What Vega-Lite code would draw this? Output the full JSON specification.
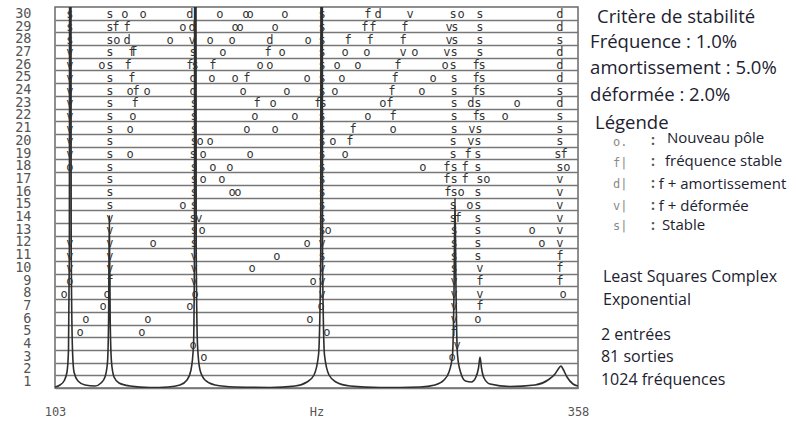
{
"$schema": "https://vega.github.io/schema/vega-lite/v6.json",
"width": 523, "height": 381,
"autosize": {"type": "none"},
"padding": {"left": 55, "top": 7, "right": 231, "bottom": 34},
"background": "white",
"config": {"view": {"stroke": "#6a6a6a", "strokeWidth": 1.5}},
"encoding": {
 "x": {"field": "hz", "type": "quantitative", "scale": {"domain": [103, 358], "nice": false, "zero": false},
  "axis": {"values": [103, 230.5, 358], "labelExpr": "datum.value == 230.5 ? 'Hz' : datum.label", "ticks": false, "domain": false, "grid": false, "labelPadding": 18, "labelFont": "DejaVu Sans Mono", "labelFontSize": 12, "labelColor": "#555555", "title": null, "labelFlush": false, "labelOverlap": false}},
 "y": {"field": "y", "type": "quantitative", "scale": {"domain": [0.5, 30.5], "nice": false, "zero": false},
  "axis": {"values": [0.5,1.5,2.5,3.5,4.5,5.5,6.5,7.5,8.5,9.5,10.5,11.5,12.5,13.5,14.5,15.5,16.5,17.5,18.5,19.5,20.5,21.5,22.5,23.5,24.5,25.5,26.5,27.5,28.5,29.5], "labelExpr": "format(datum.value + 0.5, 'd')", "labelOffset": -6.35, "grid": true, "gridColor": "#777777", "gridWidth": 1.5, "ticks": false, "tickSize": 0, "domain": false, "labelPadding": 24, "labelFont": "DejaVu Sans Mono", "labelFontSize": 13.5, "labelColor": "#555555", "title": null, "labelOverlap": false, "labelFlush": false, "labelBaseline": "middle"}}
},
"layer": [
 {"data": {"values": [
  {"hz":103,"y":0.579},{"hz":105.44,"y":0.736},{"hz":107.39,"y":1.051},{"hz":108.85,"y":1.76},{"hz":109.58,"y":3.49},{"hz":110.0,"y":11.37},{"hz":110.15,"y":38.9},{"hz":110.75,"y":38.9},{"hz":110.9,"y":11.37},{"hz":111.53,"y":3.49},{"hz":112.26,"y":1.76},{"hz":114.21,"y":1.051},{"hz":117.63,"y":0.736},{"hz":122.5,"y":0.657},
  {"hz":125.43,"y":0.894},{"hz":127.38,"y":1.366},{"hz":128.6,"y":2.547},{"hz":129.13,"y":5.854},{"hz":129.47,"y":14.04},{"hz":129.91,"y":5.854},{"hz":130.55,"y":2.547},{"hz":131.77,"y":1.366},{"hz":134.2,"y":0.894},{"hz":139.57,"y":0.657},{"hz":149.32,"y":0.539},{"hz":158.1,"y":0.579},
  {"hz":163.95,"y":0.736},{"hz":167.36,"y":1.13},{"hz":169.31,"y":1.917},{"hz":170.53,"y":3.886},{"hz":171.0,"y":11.37},{"hz":171.1,"y":38.9},{"hz":171.7,"y":38.9},{"hz":171.85,"y":11.37},{"hz":172.48,"y":3.886},{"hz":173.7,"y":1.917},{"hz":176.14,"y":1.13},{"hz":181.01,"y":0.736},{"hz":190.76,"y":0.579},{"hz":207.83,"y":0.539},
  {"hz":220.02,"y":0.657},{"hz":225.87,"y":0.972},{"hz":229.28,"y":1.524},{"hz":231.48,"y":3.098},{"hz":232.55,"y":10.58},{"hz":232.7,"y":38.9},{"hz":233.3,"y":38.9},{"hz":233.45,"y":10.58},{"hz":234.4,"y":3.098},{"hz":236.6,"y":1.524},{"hz":240.01,"y":0.972},{"hz":246.84,"y":0.657},{"hz":261.46,"y":0.539},
  {"hz":280.96,"y":0.579},{"hz":288.28,"y":0.736},{"hz":292.67,"y":1.13},{"hz":295.1,"y":1.76},{"hz":296.81,"y":3.098},{"hz":297.55,"y":8.217},{"hz":298.03,"y":15.46},{"hz":298.52,"y":8.217},{"hz":299.25,"y":3.098},{"hz":300.71,"y":1.76},{"hz":303.15,"y":1.051},{"hz":306.08,"y":0.972},
  {"hz":308.03,"y":1.287},{"hz":309.49,"y":2.075},{"hz":310.22,"y":2.941},{"hz":310.95,"y":2.075},{"hz":312.17,"y":1.287},{"hz":315.1,"y":0.815},{"hz":324.84,"y":0.618},{"hz":337.03,"y":0.736},{"hz":343.37,"y":1.13},{"hz":346.78,"y":1.602},{"hz":348.73,"y":2.075},{"hz":349.7,"y":2.232},{"hz":350.68,"y":1.996},{"hz":352.63,"y":1.366},{"hz":355.56,"y":0.815},{"hz":358,"y":0.657}
 ]},
 "mark": {"type": "line", "color": "#2e2e2e", "strokeWidth": 1.6, "clip": true, "interpolate": "monotone"}},
 {"data": {"values": [
  {"hz":110.3,"y":30,"t":"s"},{"hz":129.8,"y":30,"t":"s"},{"hz":137.1,"y":30,"t":"o"},{"hz":145.9,"y":30,"t":"o"},{"hz":168.8,"y":30,"t":"d"},{"hz":183.4,"y":30,"t":"o"},{"hz":196.1,"y":30,"t":"o"},{"hz":198.1,"y":30,"t":"o"},{"hz":215.1,"y":30,"t":"o"},{"hz":233.2,"y":30,"t":"s"},{"hz":255.6,"y":30,"t":"f"},{"hz":260.5,"y":30,"t":"d"},{"hz":276.1,"y":30,"t":"v"},{"hz":297.1,"y":30,"t":"s"},{"hz":301.0,"y":30,"t":"o"},{"hz":310.2,"y":30,"t":"s"},{"hz":349.2,"y":30,"t":"d"},
  {"hz":101.5,"y":29,"t":"f"},{"hz":110.3,"y":29,"t":"s"},{"hz":129.8,"y":29,"t":"s"},{"hz":132.7,"y":29,"t":"f"},{"hz":138.1,"y":29,"t":"f"},{"hz":165.4,"y":29,"t":"o"},{"hz":169.8,"y":29,"t":"d"},{"hz":190.8,"y":29,"t":"o"},{"hz":193.2,"y":29,"t":"o"},{"hz":210.3,"y":29,"t":"o"},{"hz":233.2,"y":29,"t":"s"},{"hz":254.1,"y":29,"t":"f"},{"hz":258.0,"y":29,"t":"f"},{"hz":273.6,"y":29,"t":"f"},{"hz":295.1,"y":29,"t":"v"},{"hz":298.0,"y":29,"t":"s"},{"hz":310.2,"y":29,"t":"s"},{"hz":349.2,"y":29,"t":"d"},
  {"hz":101.5,"y":28,"t":"f"},{"hz":110.3,"y":28,"t":"s"},{"hz":129.8,"y":28,"t":"s"},{"hz":133.2,"y":28,"t":"o"},{"hz":138.1,"y":28,"t":"d"},{"hz":159.1,"y":28,"t":"o"},{"hz":169.8,"y":28,"t":"v"},{"hz":178.6,"y":28,"t":"o"},{"hz":189.3,"y":28,"t":"o"},{"hz":207.8,"y":28,"t":"d"},{"hz":226.4,"y":28,"t":"o"},{"hz":233.2,"y":28,"t":"s"},{"hz":245.9,"y":28,"t":"f"},{"hz":256.6,"y":28,"t":"f"},{"hz":272.7,"y":28,"t":"f"},{"hz":295.1,"y":28,"t":"v"},{"hz":298.0,"y":28,"t":"s"},{"hz":310.2,"y":28,"t":"s"},{"hz":349.2,"y":28,"t":"s"},
  {"hz":101.5,"y":27,"t":"o"},{"hz":110.3,"y":27,"t":"v"},{"hz":129.8,"y":27,"t":"s"},{"hz":140.5,"y":27,"t":"f"},{"hz":141.5,"y":27,"t":"f"},{"hz":170.3,"y":27,"t":"s"},{"hz":184.9,"y":27,"t":"o"},{"hz":206.9,"y":27,"t":"f"},{"hz":213.7,"y":27,"t":"o"},{"hz":233.2,"y":27,"t":"s"},{"hz":244.4,"y":27,"t":"o"},{"hz":255.1,"y":27,"t":"o"},{"hz":272.7,"y":27,"t":"v"},{"hz":278.5,"y":27,"t":"o"},{"hz":294.1,"y":27,"t":"v"},{"hz":297.6,"y":27,"t":"s"},{"hz":310.2,"y":27,"t":"s"},{"hz":349.2,"y":27,"t":"d"},
  {"hz":110.3,"y":26,"t":"v"},{"hz":125.9,"y":26,"t":"o"},{"hz":129.8,"y":26,"t":"s"},{"hz":138.6,"y":26,"t":"f"},{"hz":168.8,"y":26,"t":"f"},{"hz":171.3,"y":26,"t":"s"},{"hz":180.0,"y":26,"t":"f"},{"hz":203.0,"y":26,"t":"o"},{"hz":207.8,"y":26,"t":"o"},{"hz":233.2,"y":26,"t":"s"},{"hz":240.5,"y":26,"t":"o"},{"hz":250.7,"y":26,"t":"o"},{"hz":270.2,"y":26,"t":"f"},{"hz":293.2,"y":26,"t":"o"},{"hz":297.1,"y":26,"t":"s"},{"hz":308.3,"y":26,"t":"f"},{"hz":311.2,"y":26,"t":"s"},{"hz":349.2,"y":26,"t":"d"},
  {"hz":110.3,"y":25,"t":"v"},{"hz":129.8,"y":25,"t":"s"},{"hz":140.5,"y":25,"t":"f"},{"hz":170.3,"y":25,"t":"d"},{"hz":179.5,"y":25,"t":"o"},{"hz":190.8,"y":25,"t":"o"},{"hz":196.6,"y":25,"t":"f"},{"hz":225.9,"y":25,"t":"o"},{"hz":233.2,"y":25,"t":"s"},{"hz":242.9,"y":25,"t":"o"},{"hz":268.8,"y":25,"t":"f"},{"hz":287.3,"y":25,"t":"o"},{"hz":297.6,"y":25,"t":"s"},{"hz":308.3,"y":25,"t":"f"},{"hz":311.2,"y":25,"t":"s"},{"hz":349.2,"y":25,"t":"d"},
  {"hz":110.3,"y":24,"t":"v"},{"hz":129.8,"y":24,"t":"s"},{"hz":139.6,"y":24,"t":"o"},{"hz":142.5,"y":24,"t":"f"},{"hz":147.9,"y":24,"t":"o"},{"hz":170.3,"y":24,"t":"d"},{"hz":194.7,"y":24,"t":"o"},{"hz":216.1,"y":24,"t":"o"},{"hz":233.2,"y":24,"t":"s"},{"hz":239.5,"y":24,"t":"o"},{"hz":267.3,"y":24,"t":"f"},{"hz":281.9,"y":24,"t":"o"},{"hz":297.6,"y":24,"t":"s"},{"hz":308.3,"y":24,"t":"f"},{"hz":311.2,"y":24,"t":"s"},{"hz":349.2,"y":24,"t":"s"},
  {"hz":110.3,"y":23,"t":"v"},{"hz":129.8,"y":23,"t":"s"},{"hz":142.0,"y":23,"t":"f"},{"hz":170.8,"y":23,"t":"s"},{"hz":201.5,"y":23,"t":"f"},{"hz":209.3,"y":23,"t":"o"},{"hz":231.2,"y":23,"t":"f"},{"hz":233.7,"y":23,"t":"s"},{"hz":262.9,"y":23,"t":"o"},{"hz":266.3,"y":23,"t":"f"},{"hz":297.6,"y":23,"t":"s"},{"hz":305.8,"y":23,"t":"d"},{"hz":309.2,"y":23,"t":"s"},{"hz":328.3,"y":23,"t":"o"},{"hz":349.2,"y":23,"t":"d"},
  {"hz":110.3,"y":22,"t":"v"},{"hz":129.8,"y":22,"t":"s"},{"hz":141.0,"y":22,"t":"o"},{"hz":170.8,"y":22,"t":"s"},{"hz":200.5,"y":22,"t":"o"},{"hz":220.0,"y":22,"t":"o"},{"hz":233.2,"y":22,"t":"s"},{"hz":255.6,"y":22,"t":"o"},{"hz":267.8,"y":22,"t":"f"},{"hz":297.6,"y":22,"t":"s"},{"hz":308.3,"y":22,"t":"f"},{"hz":311.2,"y":22,"t":"s"},{"hz":322.4,"y":22,"t":"o"},{"hz":349.2,"y":22,"t":"s"},
  {"hz":110.3,"y":21,"t":"v"},{"hz":129.8,"y":21,"t":"s"},{"hz":139.6,"y":21,"t":"o"},{"hz":170.8,"y":21,"t":"s"},{"hz":196.6,"y":21,"t":"o"},{"hz":210.3,"y":21,"t":"o"},{"hz":233.2,"y":21,"t":"s"},{"hz":248.3,"y":21,"t":"f"},{"hz":267.8,"y":21,"t":"o"},{"hz":297.6,"y":21,"t":"s"},{"hz":306.3,"y":21,"t":"v"},{"hz":309.7,"y":21,"t":"s"},{"hz":349.2,"y":21,"t":"s"},
  {"hz":110.3,"y":20,"t":"v"},{"hz":129.8,"y":20,"t":"s"},{"hz":170.8,"y":20,"t":"s"},{"hz":173.7,"y":20,"t":"o"},{"hz":178.6,"y":20,"t":"o"},{"hz":233.2,"y":20,"t":"s"},{"hz":238.5,"y":20,"t":"o"},{"hz":246.8,"y":20,"t":"f"},{"hz":297.1,"y":20,"t":"s"},{"hz":305.8,"y":20,"t":"v"},{"hz":309.2,"y":20,"t":"s"},{"hz":349.2,"y":20,"t":"s"},
  {"hz":110.3,"y":19,"t":"v"},{"hz":129.8,"y":19,"t":"s"},{"hz":139.6,"y":19,"t":"o"},{"hz":170.3,"y":19,"t":"s"},{"hz":175.2,"y":19,"t":"o"},{"hz":198.1,"y":19,"t":"o"},{"hz":233.2,"y":19,"t":"s"},{"hz":244.4,"y":19,"t":"o"},{"hz":297.1,"y":19,"t":"s"},{"hz":304.4,"y":19,"t":"f"},{"hz":309.2,"y":19,"t":"s"},{"hz":348.2,"y":19,"t":"s"},{"hz":351.2,"y":19,"t":"f"},
  {"hz":110.3,"y":18,"t":"o"},{"hz":129.8,"y":18,"t":"s"},{"hz":170.8,"y":18,"t":"s"},{"hz":180.0,"y":18,"t":"o"},{"hz":188.3,"y":18,"t":"o"},{"hz":233.2,"y":18,"t":"s"},{"hz":282.4,"y":18,"t":"o"},{"hz":294.1,"y":18,"t":"f"},{"hz":297.6,"y":18,"t":"s"},{"hz":302.9,"y":18,"t":"f"},{"hz":309.2,"y":18,"t":"s"},{"hz":349.2,"y":18,"t":"s"},{"hz":352.6,"y":18,"t":"o"},
  {"hz":129.8,"y":17,"t":"s"},{"hz":170.8,"y":17,"t":"s"},{"hz":175.2,"y":17,"t":"o"},{"hz":184.4,"y":17,"t":"o"},{"hz":233.2,"y":17,"t":"s"},{"hz":294.1,"y":17,"t":"f"},{"hz":297.6,"y":17,"t":"s"},{"hz":302.9,"y":17,"t":"f"},{"hz":310.2,"y":17,"t":"s"},{"hz":313.6,"y":17,"t":"o"},{"hz":349.2,"y":17,"t":"v"},
  {"hz":129.8,"y":16,"t":"s"},{"hz":170.8,"y":16,"t":"s"},{"hz":189.3,"y":16,"t":"o"},{"hz":192.2,"y":16,"t":"o"},{"hz":233.2,"y":16,"t":"s"},{"hz":294.6,"y":16,"t":"f"},{"hz":297.6,"y":16,"t":"s"},{"hz":301.0,"y":16,"t":"o"},{"hz":309.2,"y":16,"t":"s"},{"hz":349.2,"y":16,"t":"v"},
  {"hz":129.8,"y":15,"t":"s"},{"hz":165.4,"y":15,"t":"o"},{"hz":170.8,"y":15,"t":"s"},{"hz":233.2,"y":15,"t":"s"},{"hz":297.1,"y":15,"t":"s"},{"hz":305.3,"y":15,"t":"o"},{"hz":309.2,"y":15,"t":"s"},{"hz":349.2,"y":15,"t":"v"},
  {"hz":129.8,"y":14,"t":"v"},{"hz":170.3,"y":14,"t":"s"},{"hz":173.2,"y":14,"t":"v"},{"hz":233.2,"y":14,"t":"s"},{"hz":297.1,"y":14,"t":"s"},{"hz":299.5,"y":14,"t":"f"},{"hz":309.2,"y":14,"t":"s"},{"hz":349.2,"y":14,"t":"v"},
  {"hz":129.8,"y":13,"t":"v"},{"hz":170.8,"y":13,"t":"s"},{"hz":174.7,"y":13,"t":"o"},{"hz":233.2,"y":13,"t":"s"},{"hz":236.1,"y":13,"t":"o"},{"hz":297.6,"y":13,"t":"s"},{"hz":309.2,"y":13,"t":"s"},{"hz":335.6,"y":13,"t":"o"},{"hz":349.2,"y":13,"t":"v"},
  {"hz":110.3,"y":12,"t":"v"},{"hz":129.8,"y":12,"t":"v"},{"hz":150.8,"y":12,"t":"o"},{"hz":170.8,"y":12,"t":"s"},{"hz":225.9,"y":12,"t":"o"},{"hz":233.2,"y":12,"t":"v"},{"hz":297.6,"y":12,"t":"s"},{"hz":309.2,"y":12,"t":"s"},{"hz":340.4,"y":12,"t":"o"},{"hz":349.2,"y":12,"t":"v"},
  {"hz":110.3,"y":11,"t":"v"},{"hz":129.8,"y":11,"t":"v"},{"hz":170.8,"y":11,"t":"v"},{"hz":211.2,"y":11,"t":"o"},{"hz":233.2,"y":11,"t":"s"},{"hz":297.6,"y":11,"t":"s"},{"hz":309.2,"y":11,"t":"s"},{"hz":349.2,"y":11,"t":"f"},
  {"hz":110.3,"y":10,"t":"v"},{"hz":129.8,"y":10,"t":"v"},{"hz":170.8,"y":10,"t":"v"},{"hz":199.1,"y":10,"t":"o"},{"hz":233.2,"y":10,"t":"v"},{"hz":297.6,"y":10,"t":"s"},{"hz":310.2,"y":10,"t":"v"},{"hz":349.2,"y":10,"t":"f"},
  {"hz":110.3,"y":9,"t":"o"},{"hz":129.8,"y":9,"t":"f"},{"hz":170.8,"y":9,"t":"v"},{"hz":228.8,"y":9,"t":"o"},{"hz":233.2,"y":9,"t":"v"},{"hz":297.6,"y":9,"t":"v"},{"hz":310.2,"y":9,"t":"f"},{"hz":349.2,"y":9,"t":"f"},
  {"hz":107.4,"y":8,"t":"o"},{"hz":128.4,"y":8,"t":"o"},{"hz":171.3,"y":8,"t":"o"},{"hz":233.2,"y":8,"t":"v"},{"hz":297.6,"y":8,"t":"v"},{"hz":310.2,"y":8,"t":"v"},{"hz":350.7,"y":8,"t":"o"},
  {"hz":126.4,"y":7,"t":"o"},{"hz":168.8,"y":7,"t":"o"},{"hz":232.7,"y":7,"t":"o"},{"hz":297.6,"y":7,"t":"v"},{"hz":310.2,"y":7,"t":"f"},
  {"hz":118.1,"y":6,"t":"o"},{"hz":148.3,"y":6,"t":"o"},{"hz":227.3,"y":6,"t":"o"},{"hz":297.6,"y":6,"t":"v"},{"hz":309.2,"y":6,"t":"o"},
  {"hz":115.2,"y":5,"t":"o"},{"hz":145.4,"y":5,"t":"o"},{"hz":235.6,"y":5,"t":"o"},{"hz":297.6,"y":5,"t":"f"},
  {"hz":170.3,"y":4,"t":"o"},{"hz":299.0,"y":4,"t":"v"},
  {"hz":175.6,"y":3,"t":"o"},{"hz":296.6,"y":3,"t":"o"}
 ]},
 "mark": {"type": "text", "font": "DejaVu Sans Mono", "fontSize": 12, "color": "#333333", "baseline": "middle", "align": "center", "dy": 1, "clip": true},
 "encoding": {"text": {"field": "t"}}},
 {"data": {"values": [
  {"hz":367.3,"y":29.71,"t":"Critère de stabilité"},
  {"hz":363.9,"y":27.74,"t":"Fréquence : 1.0%"},
  {"hz":363.9,"y":25.70,"t":"amortissement : 5.0%"},
  {"hz":363.9,"y":23.57,"t":"déformée : 2.0%"},
  {"hz":366.3,"y":21.37,"t":"Légende"}
 ]},
 "mark": {"type": "text", "font": "Open Sans", "fontSize": 18.5, "color": "#1c2230", "align": "left", "baseline": "middle", "clip": false},
 "encoding": {"text": {"field": "t"}}},
 {"data": {"values": [
  {"hz":401.4,"y":20.19,"t":"Nouveau pôle"},
  {"hz":400.4,"y":18.37,"t":"fréquence stable"},
  {"hz":397.4,"y":16.56,"t":"f + amortissement"},
  {"hz":397.4,"y":14.83,"t":"f + déformée"},
  {"hz":398.9,"y":13.30,"t":"Stable"}
 ]},
 "mark": {"type": "text", "font": "Open Sans", "fontSize": 15, "color": "#1c2230", "align": "left", "baseline": "middle", "clip": false},
 "encoding": {"text": {"field": "t"}}},
 {"data": {"values": [
  {"hz":375.1,"y":19.87,"t":"o."},
  {"hz":375.1,"y":18.22,"t":"f|"},
  {"hz":375.1,"y":16.56,"t":"d|"},
  {"hz":375.1,"y":14.83,"t":"v|"},
  {"hz":375.1,"y":13.26,"t":"s|"}
 ]},
 "mark": {"type": "text", "font": "DejaVu Sans Mono", "fontSize": 12, "color": "#8a8a8a", "align": "left", "baseline": "middle", "clip": false},
 "encoding": {"text": {"field": "t"}}},
 {"data": {"values": [
  {"hz":393.6,"y":19.95,"t":":"},
  {"hz":393.6,"y":18.3,"t":":"},
  {"hz":393.6,"y":16.56,"t":":"},
  {"hz":393.6,"y":14.83,"t":":"},
  {"hz":393.6,"y":13.26,"t":":"}
 ]},
 "mark": {"type": "text", "font": "Open Sans", "fontSize": 14, "fontWeight": "bold", "color": "#555555", "align": "left", "baseline": "middle", "clip": false},
 "encoding": {"text": {"field": "t"}}},
 {"data": {"values": [
  {"hz":370.2,"y":9.24,"t":"Least Squares Complex"},
  {"hz":370.2,"y":7.43,"t":"Exponential"},
  {"hz":369.2,"y":4.67,"t":"2 entrées"},
  {"hz":369.2,"y":2.94,"t":"81 sorties"},
  {"hz":369.2,"y":1.13,"t":"1024 fréquences"}
 ]},
 "mark": {"type": "text", "font": "Open Sans", "fontSize": 16, "color": "#1c2230", "align": "left", "baseline": "middle", "clip": false},
 "encoding": {"text": {"field": "t"}}}
]
}
